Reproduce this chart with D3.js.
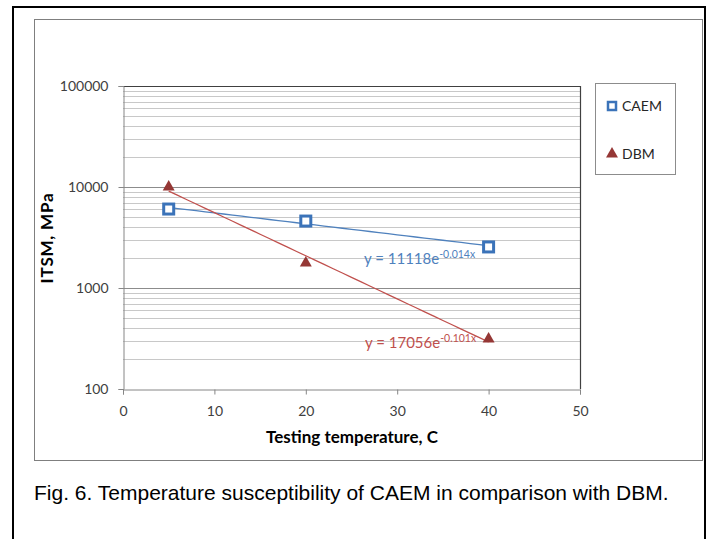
<!DOCTYPE html>
<html>
<head>
<meta charset="utf-8">
<script src="https://cdn.jsdelivr.net/npm/d3@7"></script>
<style>
  body { margin: 0; background: #fff; }
  svg { display: block; }
</style>
</head>
<body>
<svg id="chart"></svg>
<script>
// data
const temps = [5, 20, 40];
const caem = [6050, 4600, 2550];
const dbm = [10000, 1770, 313];
const seriesNames = ["CAEM", "DBM"];
const eqText = [["y = 11118e", "-0.014x"], ["y = 17056e", "-0.101x"]];
const xTicks = [0, 10, 20, 30, 40, 50];
const yTicks = [100, 1000, 10000, 100000];
const caption = "Fig. 6. Temperature susceptibility of CAEM in comparison with DBM.";

const W = 710, H = 539;
const m = { left: 123, top: 86, right: 580, bottom: 389 };
const blue = "#4f81bd", red = "#c0504d", redMark = "#953735";
const tickFont = "Lato, 'Open Sans', sans-serif";

const svg = d3.select("#chart").attr("width", W).attr("height", H);

// frames
svg.append("rect").attr("x", 13).attr("y", 7).attr("width", 692).attr("height", 545)
  .attr("fill", "none").attr("stroke", "#000").attr("stroke-width", 2);
svg.append("rect").attr("x", 34.5).attr("y", 19.5).attr("width", 668).attr("height", 441)
  .attr("fill", "none").attr("stroke", "#7f7f7f").attr("stroke-width", 1);

const x = d3.scaleLinear().domain([0, 50]).range([m.left, m.right]);
const y = d3.scaleLog().domain([100, 100000]).range([m.bottom, m.top]);

// minor grid (2..9 of each decade)
const minor = [];
for (let d = 100; d < 100000; d *= 10) for (let k = 2; k <= 9; k++) minor.push(d * k);
svg.append("g").selectAll("line").data(minor).join("line")
  .attr("x1", m.left).attr("x2", m.right)
  .attr("y1", d => Math.round(y(d)) + 0.5).attr("y2", d => Math.round(y(d)) + 0.5)
  .attr("stroke", "#c8c8c8").attr("stroke-width", 1);
// major grid
svg.append("g").selectAll("line").data(yTicks.slice(1, 3)).join("line")
  .attr("x1", m.left).attr("x2", m.right)
  .attr("y1", d => Math.round(y(d)) + 0.5).attr("y2", d => Math.round(y(d)) + 0.5)
  .attr("stroke", "#8c8c8c").attr("stroke-width", 1);

// plot border top/right
svg.append("path")
  .attr("d", `M${m.left},${m.top + 0.5}H${m.right + 0.5}V${m.bottom}`)
  .attr("fill", "none").attr("stroke", "#404040").attr("stroke-width", 1.2);

// axes
const yAxis = svg.append("g").attr("transform", `translate(${m.left + 0.5},0)`)
  .call(d3.axisLeft(y).tickValues(yTicks).tickFormat(d3.format("d")).tickSizeOuter(0).tickSize(5).tickPadding(10));
const xAxis = svg.append("g").attr("transform", `translate(0,${m.bottom + 0.5})`)
  .call(d3.axisBottom(x).tickValues(xTicks).tickSizeOuter(0).tickSize(5).tickPadding(12));
[xAxis, yAxis].forEach(a => {
  a.select(".domain").attr("stroke", "#868686");
  a.selectAll(".tick line").attr("stroke", "#868686");
  a.selectAll("text").attr("fill", "#404040").style("font-family", tickFont).style("font-size", "14px");
});

// trend lines: exponential least-squares fit (log space), drawn from 5 to 40
function expFit(xs, ys) {
  const ly = ys.map(Math.log);
  const mx = d3.mean(xs), my = d3.mean(ly);
  const b = d3.sum(xs, (v, i) => (v - mx) * (ly[i] - my)) / d3.sum(xs, v => (v - mx) ** 2);
  const a = Math.exp(my - b * mx);
  return t => a * Math.exp(b * t);
}
const series = [
  { name: seriesNames[0], vals: caem, color: blue },
  { name: seriesNames[1], vals: dbm, color: red }
];
const line = d3.line().x(d => x(d[0])).y(d => y(d[1]));
series.forEach(s => {
  const f = expFit(temps, s.vals);
  const pts = d3.range(temps[0], temps[temps.length - 1] + 0.5, 1).map(t => [t, f(t)]);
  svg.append("path").datum(pts).attr("d", line)
    .attr("fill", "none").attr("stroke", s.color).attr("stroke-width", 1.3);
});

// markers
const tri = d3.symbol().type(d3.symbolTriangle).size(62);
svg.append("g").selectAll("rect").data(temps.map((t, i) => [t, caem[i]])).join("rect")
  .attr("x", d => x(d[0]) - 5).attr("y", d => y(d[1]) - 5)
  .attr("width", 10).attr("height", 10)
  .attr("fill", "#fff").attr("stroke", "#3b73b9").attr("stroke-width", 3);
svg.append("g").selectAll("path").data(temps.map((t, i) => [t, dbm[i]])).join("path")
  .attr("d", tri).attr("transform", d => `translate(${x(d[0])},${y(d[1])})`)
  .attr("fill", redMark);

// equation labels
const eqPos = [[364, 264], [365, 348]];
series.forEach((s, i) => {
  const t = svg.append("text").attr("x", eqPos[i][0]).attr("y", eqPos[i][1])
    .attr("fill", s.color).style("font-family", tickFont).style("font-size", "15px");
  t.append("tspan").text(eqText[i][0]);
  t.append("tspan").attr("dy", -6).style("font-size", "10.5px").text(eqText[i][1]);
});

// legend
svg.append("rect").attr("x", 595.5).attr("y", 83.5).attr("width", 80).attr("height", 91)
  .attr("fill", "#fff").attr("stroke", "#8c8c8c");
svg.append("rect").attr("x", 608).attr("y", 102).attr("width", 8).attr("height", 8)
  .attr("fill", "#fff").attr("stroke", "#3b73b9").attr("stroke-width", 2.5);
svg.append("path").attr("d", tri).attr("transform", "translate(612,154)").attr("fill", redMark);
svg.append("text").attr("x", 622).attr("y", 111).text(seriesNames[0])
  .attr("fill", "#262626").style("font-family", tickFont).style("font-size", "14px");
svg.append("text").attr("x", 622).attr("y", 159).text(seriesNames[1])
  .attr("fill", "#262626").style("font-family", tickFont).style("font-size", "14px");

// axis titles
svg.append("text").attr("transform", "translate(53,238) rotate(-90)")
  .attr("text-anchor", "middle").attr("fill", "#000")
  .style("font-family", tickFont).style("font-size", "17px").style("font-weight", "bold")
  .style("letter-spacing", "0.8px")
  .text("ITSM, MPa");
svg.append("text").attr("x", 352).attr("y", 443)
  .attr("text-anchor", "middle").attr("fill", "#000")
  .style("font-family", tickFont).style("font-size", "17px").style("font-weight", "bold")
  .text("Testing temperature, C");

// caption
svg.append("text").attr("x", 34).attr("y", 500).text(caption)
  .attr("fill", "#000").style("font-family", "'Liberation Sans', Arial, sans-serif").style("font-size", "21px");
</script>
</body>
</html>
